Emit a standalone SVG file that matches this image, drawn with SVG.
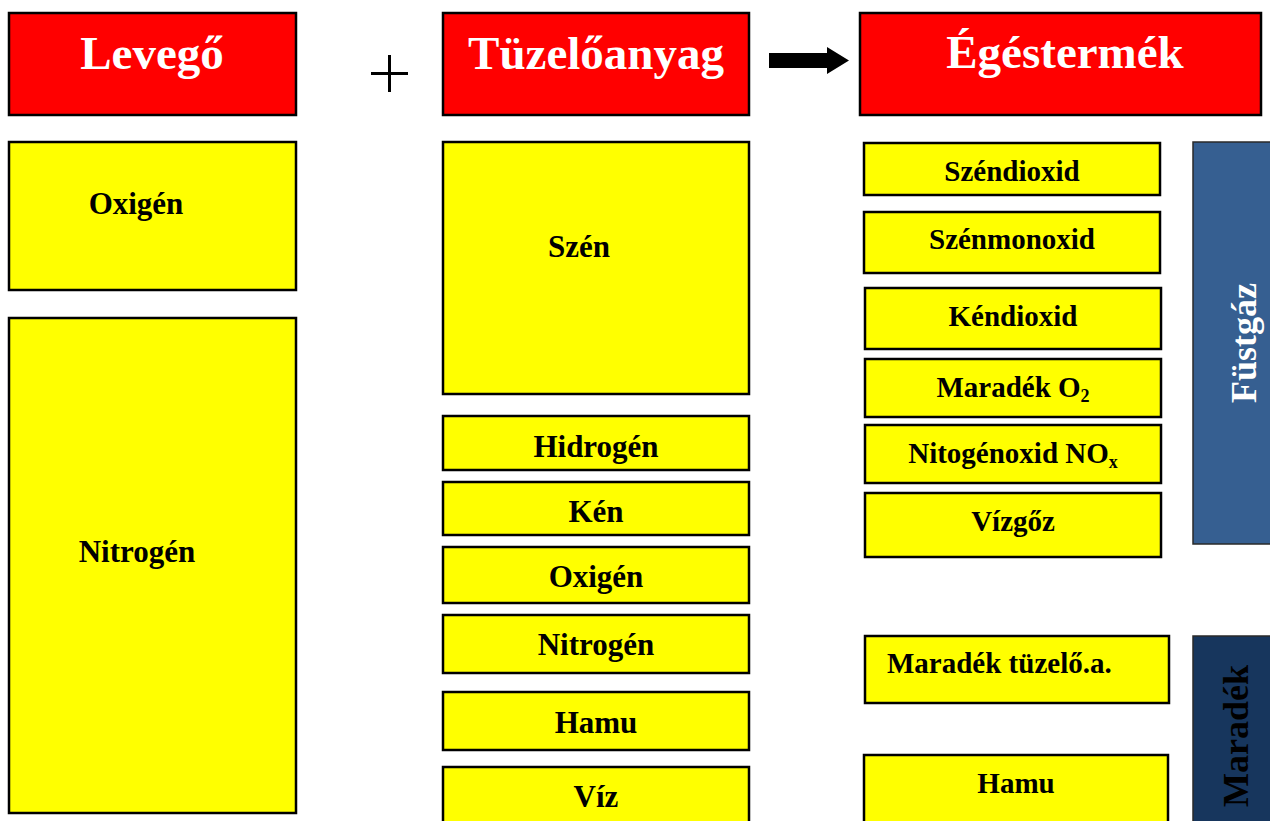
<svg xmlns="http://www.w3.org/2000/svg" width="1270" height="821" viewBox="0 0 1270 821">
<style>
.hdr{fill:#FF0000;stroke:#000;stroke-width:2.5}
.box{fill:#FFFF00;stroke:#000;stroke-width:2.5}
.ht{font-family:"Liberation Serif",serif;font-weight:bold;font-size:47px;fill:#fff;text-anchor:middle}
.t{font-family:"Liberation Serif",serif;font-weight:bold;font-size:31px;fill:#000;text-anchor:middle}
.tr{font-family:"Liberation Serif",serif;font-weight:bold;font-size:29px;fill:#000;text-anchor:middle}
.vt{font-family:"Liberation Serif",serif;font-weight:bold;font-size:36px;text-anchor:middle}
.sub{font-size:18px}
</style>
<rect width="1270" height="821" fill="#fff"/>
<g id="levego"><rect class="hdr" x="9" y="13" width="287" height="102"/><text class="ht" x="152" y="69">Levegő</text></g>
<g id="plus"><path d="M371 73.5H408M389.5 55V92" stroke="#000" stroke-width="3" fill="none"/></g>
<g id="tuzeloanyag"><rect class="hdr" x="443" y="13" width="306" height="102"/><text class="ht" x="596" y="69">Tüzelőanyag</text></g>
<g id="egestermek"><rect class="hdr" x="860" y="13" width="401" height="102"/><text class="ht" x="1065" y="68">Égéstermék</text></g>
<g id="connectors"><polygon points="769,53 827,53 827,47 849,60.5 827,74 827,68 769,68" fill="#000"/></g>

<g id="l-oxigen"><rect class="box" x="9" y="142" width="287" height="148"/><text class="t" x="136" y="214">Oxigén</text></g>
<g id="l-nitrogen"><rect class="box" x="9" y="318" width="287" height="495"/><text class="t" x="137" y="562">Nitrogén</text></g>

<g id="m-szen"><rect class="box" x="443" y="142" width="306" height="252"/><text class="t" x="579" y="257">Szén</text></g>
<g id="m-hidrogen"><rect class="box" x="443" y="416" width="306" height="54"/><text class="t" x="596" y="457">Hidrogén</text></g>
<g id="m-ken"><rect class="box" x="443" y="482" width="306" height="53"/><text class="t" x="596" y="522">Kén</text></g>
<g id="m-oxigen"><rect class="box" x="443" y="547" width="306" height="56"/><text class="t" x="596" y="587">Oxigén</text></g>
<g id="m-nitrogen"><rect class="box" x="443" y="615" width="306" height="58"/><text class="t" x="596" y="655">Nitrogén</text></g>
<g id="m-hamu"><rect class="box" x="443" y="692" width="306" height="58"/><text class="t" x="596" y="733">Hamu</text></g>
<g id="m-viz"><rect class="box" x="443" y="767" width="306" height="60"/><text class="t" x="596" y="807">Víz</text></g>

<g id="r-szendioxid"><rect class="box" x="864" y="143" width="296" height="52"/><text class="tr" x="1012" y="181">Széndioxid</text></g>
<g id="r-szenmonoxid"><rect class="box" x="864" y="212" width="296" height="61"/><text class="tr" x="1012" y="249">Szénmonoxid</text></g>
<g id="r-kendioxid"><rect class="box" x="865" y="288" width="296" height="61"/><text class="tr" x="1013" y="326">Kéndioxid</text></g>
<g id="r-maradeko2"><rect class="box" x="865" y="359" width="296" height="58"/><text class="tr" x="1013" y="397">Maradék O<tspan class="sub" dy="5">2</tspan></text></g>
<g id="r-nox"><rect class="box" x="865" y="425" width="296" height="58"/><text class="tr" x="1013" y="463">Nitogénoxid NO<tspan class="sub" dy="5">x</tspan></text></g>
<g id="r-vizgoz"><rect class="box" x="865" y="493" width="296" height="64"/><text class="tr" x="1013" y="531">Vízgőz</text></g>
<g id="r-maradek-tuzeloa"><rect class="box" x="865" y="636" width="304" height="67"/><text class="tr" x="887" y="673" style="text-anchor:start">Maradék tüzelő.a.</text></g>
<g id="r-hamu"><rect class="box" x="864" y="755" width="304" height="72"/><text class="tr" x="1016" y="793">Hamu</text></g>

<g id="fustgaz"><rect x="1193" y="142" width="82" height="402" fill="#365F91" stroke="#2a2a2a" stroke-width="1.5"/><text class="vt" fill="#fff" transform="translate(1256,343) rotate(-90)">Füstgáz</text></g>
<g id="maradek"><rect x="1193" y="636" width="82" height="190" fill="#17365D" stroke="#2a2a2a" stroke-width="1.5"/><text class="vt" fill="#000" transform="translate(1248,736) rotate(-90)">Maradék</text></g>
</svg>
